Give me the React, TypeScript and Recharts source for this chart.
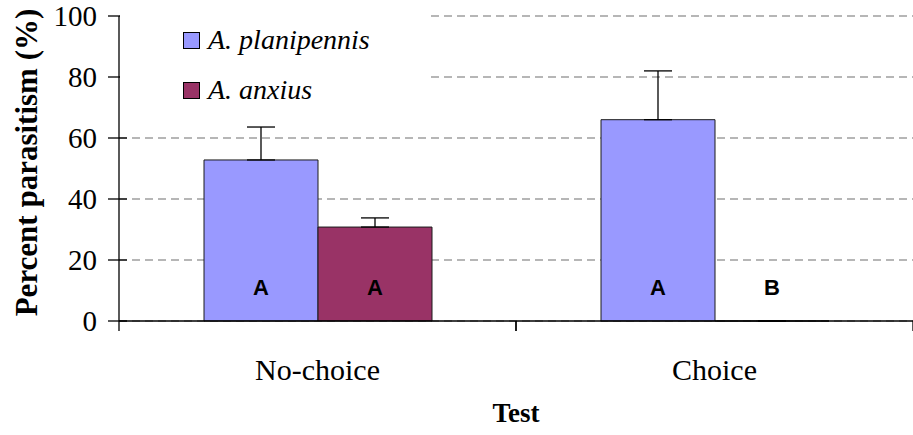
import { BarChart, Bar, XAxis, YAxis, CartesianGrid, ErrorBar, LabelList, Legend, Label } from "recharts";

const categories = ["No-choice", "Choice"];
const seriesNames = ["A. planipennis", "A. anxius"];
const planipennis = [52.8, 66.0];
const anxius = [30.8, 0];
const planipennisSE = [10.8, 16.0];
const anxiusSE = [3.0, 0];
const planipennisLetters = ["A", "A"];
const anxiusLetters = ["A", "B"];
const yTicks = [0, 20, 40, 60, 80, 100];

const data = categories.map((name, i) => ({
  name,
  planipennis: planipennis[i],
  anxius: anxius[i],
  // only the upper half of the error bar is drawn
  planipennisErr: [0, planipennisSE[i]],
  anxiusErr: [0, anxiusSE[i]],
  planipennisSig: planipennisLetters[i],
  anxiusSig: anxiusLetters[i],
}));

const W = 913;
const H = 435;
const Y_AXIS_W = 119;
const HALF_BAND = (W - Y_AXIS_W) / categories.length / 2;
const SERIF = '"Liberation Serif", "Times New Roman", serif';
const SANS = '"Liberation Sans", Arial, sans-serif';

function YTick(props: any) {
  const { x, y, payload } = props;
  return (
    <g>
      <line x1={x} x2={x + 19} y1={y} y2={y} stroke="#000" strokeWidth={1.3} />
      <text x={x - 11} y={y} dy={10} textAnchor="end" fontFamily={SERIF} fontSize={29} fill="#000">
        {payload.value}
      </text>
    </g>
  );
}

function XTick(props: any) {
  const { x, y, payload } = props;
  return (
    <g>
      <line x1={x - HALF_BAND} x2={x - HALF_BAND} y1={y} y2={y + 10} stroke="#000" strokeWidth={1.3} />
      <line x1={x + HALF_BAND} x2={x + HALF_BAND} y1={y} y2={y + 10} stroke="#000" strokeWidth={1.3} />
      <text x={x} y={y + 59} textAnchor="middle" fontFamily={SERIF} fontSize={30} fill="#000">
        {payload.value}
      </text>
    </g>
  );
}

function SigLetter(props: any) {
  const { x, y, width, height, value } = props;
  return (
    <text x={x + width / 2} y={y + height - 26} textAnchor="middle" fontFamily={SANS} fontWeight="bold" fontSize={22} fill="#000">
      {value}
    </text>
  );
}

function LegendBox(props: any) {
  const items = [...(props.payload || [])].sort(
    (a: any, b: any) => seriesNames.indexOf(a.value) - seriesNames.indexOf(b.value)
  );
  return (
    <div style={{ paddingTop: 1 }}>
      {items.map((entry: any) => (
        <div key={entry.value} style={{ height: 50, display: "flex", alignItems: "center" }}>
          <span
            style={{
              display: "inline-block",
              marginLeft: 63,
              width: 15,
              height: 15,
              background: entry.color,
              border: "1px solid #000",
            }}
          />
          <span style={{ marginLeft: 8, fontFamily: SERIF, fontStyle: "italic", fontSize: 28, lineHeight: "28px", color: "#000" }}>
            {entry.value}
          </span>
        </div>
      ))}
    </div>
  );
}

export default function App() {
  return (
    <div style={{ position: "absolute", left: 0, top: 0, background: "#fff" }}>
      <BarChart
        width={W}
        height={H}
        data={data}
        margin={{ top: 16, right: 0, bottom: 0, left: 0 }}
        barGap={0}
        barSize={114}
      >
        <CartesianGrid vertical={false} stroke="#6e6e6e" strokeWidth={1.2} strokeDasharray="8 5" />
        <XAxis
          dataKey="name"
          height={114}
          tickSize={0}
          tickMargin={0}
          tickLine={false}
          axisLine={{ stroke: "#000", strokeWidth: 1.3 }}
          tick={<XTick />}
          interval={0}
        >
          <Label
            content={(p: any) => {
              const vb = p.viewBox;
              return (
                <text x={vb.x + vb.width / 2} y={vb.y + 101} textAnchor="middle" fontFamily={SERIF} fontWeight="bold" fontSize={27} fill="#000">
                  Test
                </text>
              );
            }}
          />
        </XAxis>
        <YAxis
          width={Y_AXIS_W}
          domain={[0, 100]}
          ticks={yTicks}
          tickSize={11}
          tickMargin={0}
          tickLine={false}
          axisLine={{ stroke: "#000", strokeWidth: 1.3 }}
          tick={<YTick />}
        >
          <Label
            content={(p: any) => {
              const vb = p.viewBox;
              const cy = vb.y + vb.height / 2 - 6;
              return (
                <text x={37} y={cy} transform={`rotate(-90, 37, ${cy})`} textAnchor="middle" fontFamily={SERIF} fontWeight="bold" fontSize={31} fill="#000">
                  Percent parasitism (%)
                </text>
              );
            }}
          />
        </YAxis>
        <Legend
          layout="vertical"
          align="center"
          verticalAlign="middle"
          wrapperStyle={{ left: 120, top: 14, width: 306, height: 96, background: "#fff" }}
          content={<LegendBox />}
        />
        <Bar dataKey="planipennis" name={seriesNames[0]} fill="#9999FF" stroke="#1a1a1a" strokeWidth={1} isAnimationActive={false}>
          <ErrorBar dataKey="planipennisErr" width={14} stroke="#000" strokeWidth={1.3} direction="y" />
          <LabelList dataKey="planipennisSig" content={<SigLetter />} />
        </Bar>
        <Bar
          dataKey="anxius"
          name={seriesNames[1]}
          fill="#993366"
          stroke="#1a1a1a"
          strokeWidth={1}
          minPointSize={0.01}
          isAnimationActive={false}
        >
          <ErrorBar dataKey="anxiusErr" width={14} stroke="#000" strokeWidth={1.3} direction="y" />
          <LabelList dataKey="anxiusSig" content={<SigLetter />} />
        </Bar>
      </BarChart>
    </div>
  );
}
